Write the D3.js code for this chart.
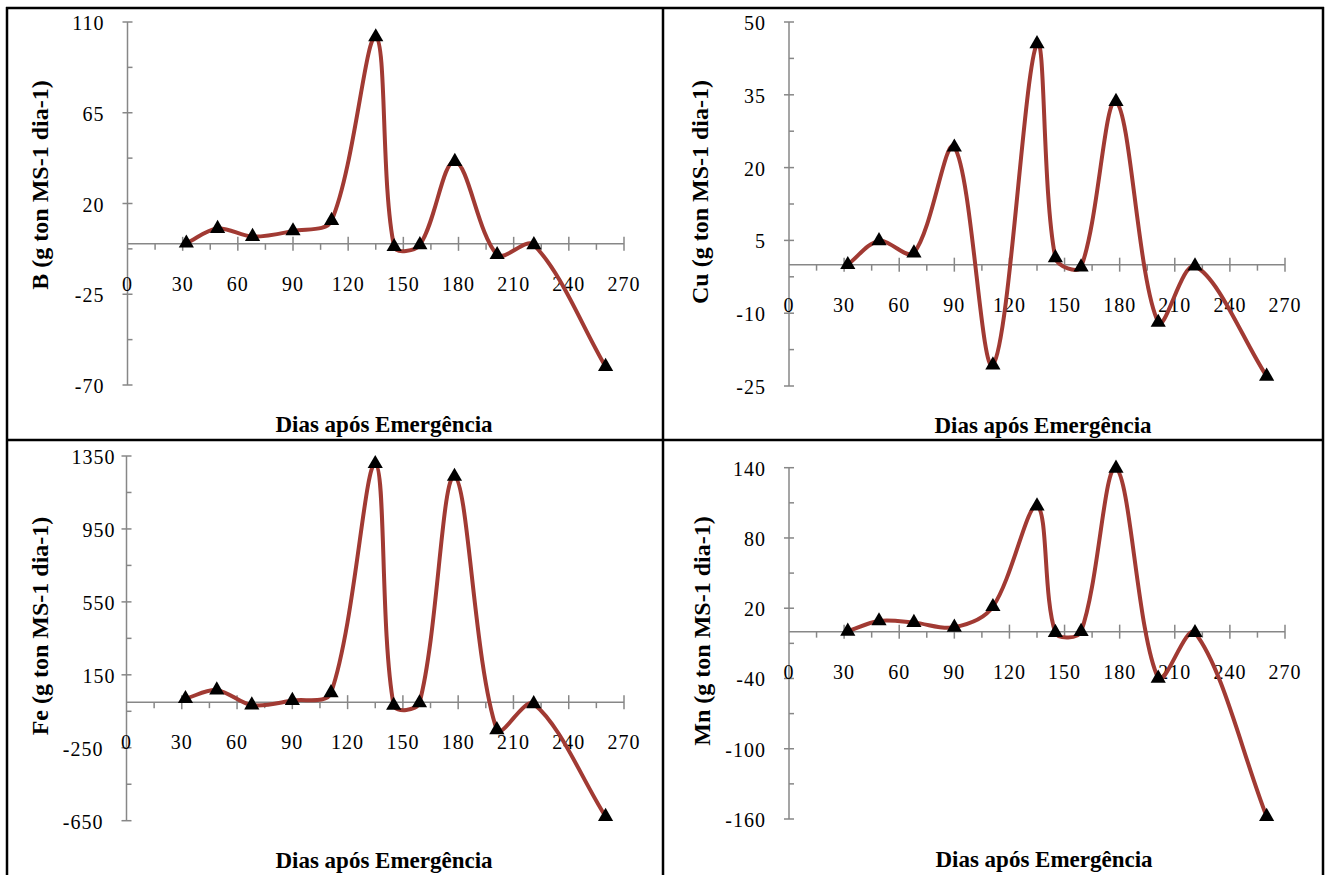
<!DOCTYPE html>
<html>
<head>
<meta charset="utf-8">
<script src="https://cdn.jsdelivr.net/npm/d3@7"></script>
<style>
  body { margin: 0; background: #fff; }
  svg { display: block; }
  .tick-label { font-family: "Liberation Serif", "Times New Roman", serif; font-size: 20px; fill: #000; }
  .axis-title { font-family: "Liberation Serif", "Times New Roman", serif; font-size: 23px; font-weight: bold; fill: #000; }
</style>
</head>
<body>
<script>
// days after emergence (x values shared by all four panels)
const days = [32, 49, 68, 90, 111, 135, 145, 159, 178, 201, 221, 260]

const bValues  = [0.3, 7.6, 3.6, 6.4, 11.5, 102.6, -1.4, -0.5, 40.8, -5.4, -0.5, -60.9]
const cuValues = [0, 4.9, 2.4, 24.2, -20.7, 45.5, 1.4, -0.5, 33.6, -11.9, -0.3, -23]
const feValues = [19, 66, -16, 9, 51, 1308, -18, -4, 1238, -152, -9, -627]
const mnValues = [0.3, 9.1, 7.7, 3.7, 21.3, 107.3, -0.8, 0, 139.5, -39.8, -0.9, -157.9]

const xTicks   = [0, 30, 60, 90, 120, 150, 180, 210, 240, 270]
const bTicks   = [-70, -25, 20, 65, 110]
const cuTicks  = [-25, -10, 5, 20, 35, 50]
const feTicks  = [-650, -250, 150, 550, 950, 1350]
const mnTicks  = [-160, -100, -40, 20, 80, 140]

const xTitle = 'Dias após Emergência'

const W = 1326, H = 875
const lineColor = '#a13a33'
const axisColor = '#878787'

// smoothing like the spreadsheet's "smoothed line": bezier with tangents
// split by the neighbouring chord lengths (less overshoot on short gaps)
function curveSmooth(context) {
    let pts = []
    return {
        areaStart() {}, areaEnd() {},
        lineStart() { pts = [] },
        point(x, y) { pts.push([+x, +y]) },
        lineEnd() {
            const n = pts.length
            if (!n) return
            const dist = (a, b) => Math.hypot(b[0] - a[0], b[1] - a[1])
            const outC = [], inC = []
            for (let i = 0; i < n; i++) {
                const p = pts[i]
                const prev = pts[Math.max(i - 1, 0)]
                const next = pts[Math.min(i + 1, n - 1)]
                const tx = next[0] - prev[0], ty = next[1] - prev[1]
                const dp = i > 0 ? dist(prev, p) : 0
                const dn = i < n - 1 ? dist(p, next) : 0
                const sum = dp + dn || 1
                const fo = i === 0 ? 1 / 3 : dn / sum / 3
                const fi = i === n - 1 ? 1 / 3 : dp / sum / 3
                outC.push([p[0] + tx * fo, p[1] + ty * fo])
                inC.push([p[0] - tx * fi, p[1] - ty * fi])
            }
            context.moveTo(pts[0][0], pts[0][1])
            for (let i = 0; i < n - 1; i++) {
                context.bezierCurveTo(outC[i][0], outC[i][1], inC[i + 1][0], inC[i + 1][1], pts[i + 1][0], pts[i + 1][1])
            }
        }
    }
}

const svg = d3.select('body').append('svg')
    .attr('width', W)
    .attr('height', H)

// panel layout (pixel boxes)
const panels = [
    { name: 'B',  values: bValues,  ticks: bTicks,  x0: 127.5, x1: 624, yTop: 22,  yBot: 385,
      titleX: 384,  titleY: 432, yTitleX: 40,  yTitleY: 185, posShift: 0 },
    { name: 'Cu', values: cuValues, ticks: cuTicks, x0: 789,  x1: 1285, yTop: 22,  yBot: 386,
      titleX: 1043, titleY: 433, yTitleX: 700, yTitleY: 192, posShift: 0 },
    { name: 'Fe', values: feValues, ticks: feTicks, x0: 126.5, x1: 624, yTop: 456, yBot: 820.7,
      titleX: 384,  titleY: 868, yTitleX: 40,  yTitleY: 626, posShift: 12 },
    { name: 'Mn', values: mnValues, ticks: mnTicks, x0: 789,  x1: 1285, yTop: 467.7, yBot: 819,
      titleX: 1044, titleY: 867, yTitleX: 702, yTitleY: 631, posShift: 0 }
]

panels.forEach(p => {
    const g = svg.append('g')
    const yMin = d3.min(p.ticks), yMax = d3.max(p.ticks)
    const step = p.ticks[1] - p.ticks[0]

    const x = d3.scaleLinear().domain([0, 270]).range([p.x0, p.x1])
    const y = d3.scaleLinear().domain([yMin, yMax]).range([p.yBot, p.yTop])

    // y axis: major ticks cross, minor ticks inside
    const yAxis = g.append('g').attr('transform', `translate(${x(0)},0)`)
    yAxis.append('line')
        .attr('y1', y(yMin)).attr('y2', y(yMax))
        .attr('stroke', axisColor).attr('stroke-width', 1.5)
    yAxis.selectAll('.maj').data(p.ticks).enter().append('line')
        .attr('x1', -5).attr('x2', 5)
        .attr('y1', d => y(d)).attr('y2', d => y(d))
        .attr('stroke', axisColor).attr('stroke-width', 1.5)
    yAxis.selectAll('.min').data(p.ticks.slice(1).map(t => t - step / 2)).enter().append('line')
        .attr('x1', 0).attr('x2', 5)
        .attr('y1', d => y(d)).attr('y2', d => y(d))
        .attr('stroke', axisColor).attr('stroke-width', 1.5)
    yAxis.selectAll('text').data(p.ticks).enter().append('text')
        .attr('class', 'tick-label')
        .attr('x', d => -23 + (d > 0 ? p.posShift : 0))
        .attr('y', d => y(d) + 8)
        .attr('text-anchor', 'end')
        .style('letter-spacing', '1px')
        .text(d => d)

    // x axis along zero
    const xAxis = g.append('g').attr('transform', `translate(0,${y(0)})`)
    xAxis.append('line')
        .attr('x1', x(0)).attr('x2', x(270))
        .attr('stroke', axisColor).attr('stroke-width', 1.5)
    xAxis.selectAll('.maj').data(xTicks.slice(1)).enter().append('line')
        .attr('x1', d => x(d)).attr('x2', d => x(d))
        .attr('y1', -7).attr('y2', 7)
        .attr('stroke', axisColor).attr('stroke-width', 1.5)
    xAxis.selectAll('.min').data(xTicks.slice(1).map(t => t - 15)).enter().append('line')
        .attr('x1', d => x(d)).attr('x2', d => x(d))
        .attr('y1', 0).attr('y2', 6)
        .attr('stroke', axisColor).attr('stroke-width', 1.5)
    xAxis.selectAll('text').data(xTicks).enter().append('text')
        .attr('class', 'tick-label')
        .attr('x', d => x(d))
        .attr('y', 47)
        .attr('text-anchor', 'middle')
        .style('letter-spacing', '1px')
        .text(d => d)

    const pts = days.map((d, i) => [d, p.values[i]])
    const line = d3.line()
        .x(d => x(d[0]))
        .y(d => y(d[1]))
        .curve(curveSmooth)
    g.append('path')
        .datum(pts)
        .attr('d', line)
        .attr('fill', 'none')
        .attr('stroke', lineColor)
        .attr('stroke-width', 4)

    g.selectAll('.marker').data(pts).enter().append('path')
        .attr('d', d3.symbol().type(d3.symbolTriangle).size(100))
        .attr('transform', d => `translate(${x(d[0])},${y(d[1])})`)
        .attr('fill', '#000')

    g.append('text')
        .attr('class', 'axis-title')
        .attr('x', p.titleX).attr('y', p.titleY)
        .attr('text-anchor', 'middle')
        .text(xTitle)

    g.append('text')
        .attr('class', 'axis-title')
        .style('font-size', '24px')
        .attr('transform', `translate(${p.yTitleX + 8},${p.yTitleY}) rotate(-90)`)
        .attr('text-anchor', 'middle')
        .text(`${p.name} (g ton MS-1 dia-1)`)
})

// frame and dividers
const frame = svg.append('g').attr('stroke', '#000').attr('stroke-width', 2.5)
frame.append('line').attr('x1', 6).attr('x2', 1324).attr('y1', 8).attr('y2', 8)
frame.append('line').attr('x1', 7).attr('x2', 7).attr('y1', 7).attr('y2', H)
frame.append('line').attr('x1', 1323).attr('x2', 1323).attr('y1', 7).attr('y2', H)
frame.append('line').attr('x1', 663).attr('x2', 663).attr('y1', 7).attr('y2', H)
frame.append('line').attr('x1', 6).attr('x2', 1324).attr('y1', 440).attr('y2', 440)
</script>
</body>
</html>
